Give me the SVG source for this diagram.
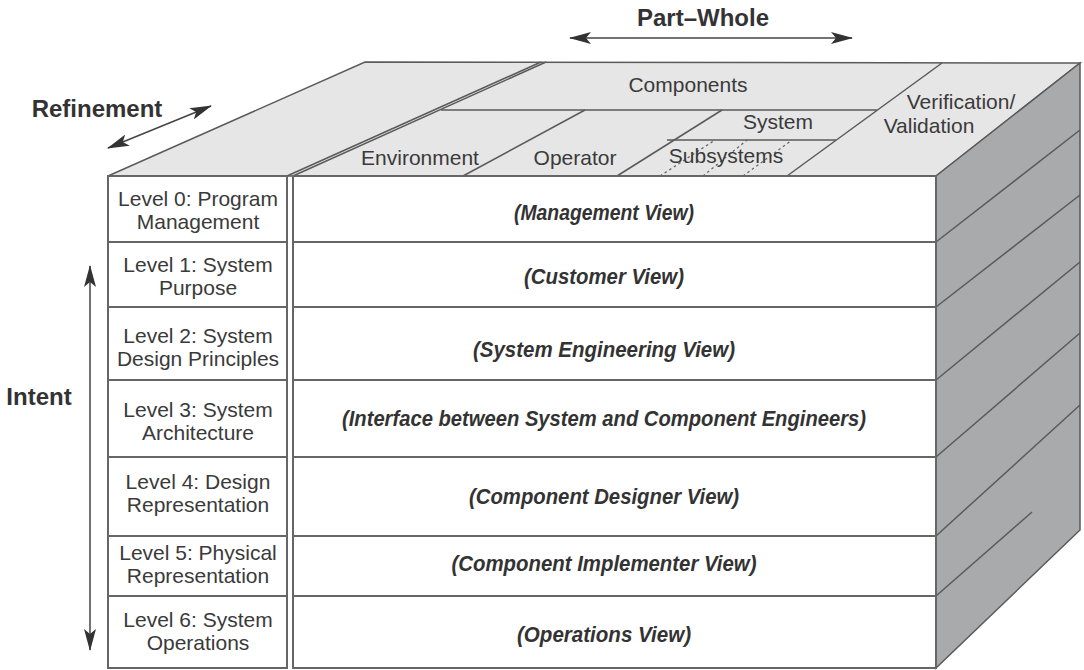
<svg xmlns="http://www.w3.org/2000/svg" width="1084" height="670" viewBox="0 0 1084 670">
<defs>
<style>
.ln{stroke:#5a5a5a;stroke-width:1.5;fill:none}
.row{fill:#ffffff;stroke:#666;stroke-width:2}
.lvl{font-family:"Liberation Sans",Arial,sans-serif;font-size:21px;fill:#3a3a3a;text-anchor:middle}
.view{font-family:"Liberation Sans",Arial,sans-serif;font-size:22px;font-weight:bold;font-style:italic;fill:#333;text-anchor:middle}
.top{font-family:"Liberation Sans",Arial,sans-serif;font-size:21px;fill:#3a3a3a;text-anchor:middle}
.axis{font-family:"Liberation Sans",Arial,sans-serif;font-size:24px;font-weight:bold;fill:#333;text-anchor:middle}
.arr{stroke:#444;stroke-width:1.5;fill:none}
.dot{stroke:#666;stroke-width:1.3;stroke-dasharray:2.5 3;fill:none}
</style>
<marker id="ah" viewBox="0 0 22 12" refX="21" refY="6" markerWidth="22" markerHeight="12" markerUnits="userSpaceOnUse" orient="auto-start-reverse">
<path d="M0,0 L22,6 L0,12 L5,6 Z" fill="#333"/>
</marker>
</defs>

<g id="top-face">
<polygon points="108,176 365,62 1080,63 936,176" fill="#e6e6e6" stroke="#5a5a5a" stroke-width="1.5"/>
<line class="ln" x1="287" y1="176" x2="541" y2="62"/>
<line class="ln" x1="293" y1="176" x2="546" y2="62"/>
<line class="ln" x1="441" y1="110" x2="877" y2="110"/>
<line class="ln" x1="667" y1="140" x2="836" y2="140"/>
<line class="ln" x1="463" y1="176" x2="585" y2="110"/>
<line class="ln" x1="617" y1="176" x2="722" y2="110"/>
<line class="ln" x1="787" y1="176" x2="942" y2="63"/>
<line class="dot" x1="660" y1="176" x2="715" y2="140"/>
<line class="dot" x1="703" y1="176" x2="747" y2="140"/>
<line class="dot" x1="743" y1="176" x2="792" y2="140"/>
<text class="top" x="688" y="92">Components</text>
<text class="top" x="420" y="165">Environment</text>
<text class="top" x="575" y="165">Operator</text>
<text class="top" x="778" y="129">System</text>
<text class="top" x="726" y="163">Subsystems</text>
<text class="top" x="961" y="109">Verification/</text>
<text class="top" x="929" y="133">Validation</text>
</g>

<g id="right-face">
<polygon points="936,176 1080,63 1080,530 936,668" fill="#a9aaac" stroke="#5a5a5a" stroke-width="1.5"/>
<line class="ln" x1="936" y1="242" x2="1080" y2="130"/>
<line class="ln" x1="936" y1="307" x2="1080" y2="195"/>
<line class="ln" x1="936" y1="380" x2="1080" y2="262"/>
<line class="ln" x1="936" y1="457" x2="1080" y2="333"/>
<line class="ln" x1="936" y1="536" x2="1080" y2="405"/>
<line class="ln" x1="936" y1="596" x2="1032" y2="512"/>
</g>

<g id="level-0">
<rect class="row" x="108" y="176" width="179" height="66"/>
<rect class="row" x="293" y="176" width="643" height="66"/>
<text class="lvl" x="198" y="206">Level 0: Program</text>
<text class="lvl" x="198" y="229">Management</text>
<text class="view" x="604" y="220" textLength="180" lengthAdjust="spacingAndGlyphs">(Management View)</text>
</g>
<g id="level-1">
<rect class="row" x="108" y="242" width="179" height="65"/>
<rect class="row" x="293" y="242" width="643" height="65"/>
<text class="lvl" x="198" y="272">Level 1: System</text>
<text class="lvl" x="198" y="295">Purpose</text>
<text class="view" x="604" y="284" textLength="160" lengthAdjust="spacingAndGlyphs">(Customer View)</text>
</g>
<g id="level-2">
<rect class="row" x="108" y="307" width="179" height="73"/>
<rect class="row" x="293" y="307" width="643" height="73"/>
<text class="lvl" x="198" y="343">Level 2: System</text>
<text class="lvl" x="198" y="366">Design Principles</text>
<text class="view" x="604" y="357" textLength="262" lengthAdjust="spacingAndGlyphs">(System Engineering View)</text>
</g>
<g id="level-3">
<rect class="row" x="108" y="380" width="179" height="77"/>
<rect class="row" x="293" y="380" width="643" height="77"/>
<text class="lvl" x="198" y="417">Level 3: System</text>
<text class="lvl" x="198" y="440">Architecture</text>
<text class="view" x="604" y="426" textLength="524" lengthAdjust="spacingAndGlyphs">(Interface between System and Component Engineers)</text>
</g>
<g id="level-4">
<rect class="row" x="108" y="457" width="179" height="79"/>
<rect class="row" x="293" y="457" width="643" height="79"/>
<text class="lvl" x="198" y="489">Level 4: Design</text>
<text class="lvl" x="198" y="512">Representation</text>
<text class="view" x="604" y="504" textLength="270" lengthAdjust="spacingAndGlyphs">(Component Designer View)</text>
</g>
<g id="level-5">
<rect class="row" x="108" y="536" width="179" height="60"/>
<rect class="row" x="293" y="536" width="643" height="60"/>
<text class="lvl" x="198" y="560">Level 5: Physical</text>
<text class="lvl" x="198" y="583">Representation</text>
<text class="view" x="604" y="571" textLength="305" lengthAdjust="spacingAndGlyphs">(Component Implementer View)</text>
</g>
<g id="level-6">
<rect class="row" x="108" y="596" width="179" height="72"/>
<rect class="row" x="293" y="596" width="643" height="72"/>
<text class="lvl" x="198" y="627">Level 6: System</text>
<text class="lvl" x="198" y="650">Operations</text>
<text class="view" x="604" y="642" textLength="174" lengthAdjust="spacingAndGlyphs">(Operations View)</text>
</g>

<g id="axis-labels">
<text class="axis" x="703" y="26">Part–Whole</text>
<text class="axis" x="97" y="117">Refinement</text>
<text class="axis" x="39" y="405">Intent</text>
</g>

<g id="connectors">
<line class="arr" x1="570" y1="38" x2="852" y2="38" marker-start="url(#ah)" marker-end="url(#ah)"/>
<line class="arr" x1="108" y1="148" x2="211" y2="106" marker-start="url(#ah)" marker-end="url(#ah)"/>
<line class="arr" x1="90" y1="266" x2="90" y2="650" marker-start="url(#ah)" marker-end="url(#ah)"/>
</g>
</svg>
